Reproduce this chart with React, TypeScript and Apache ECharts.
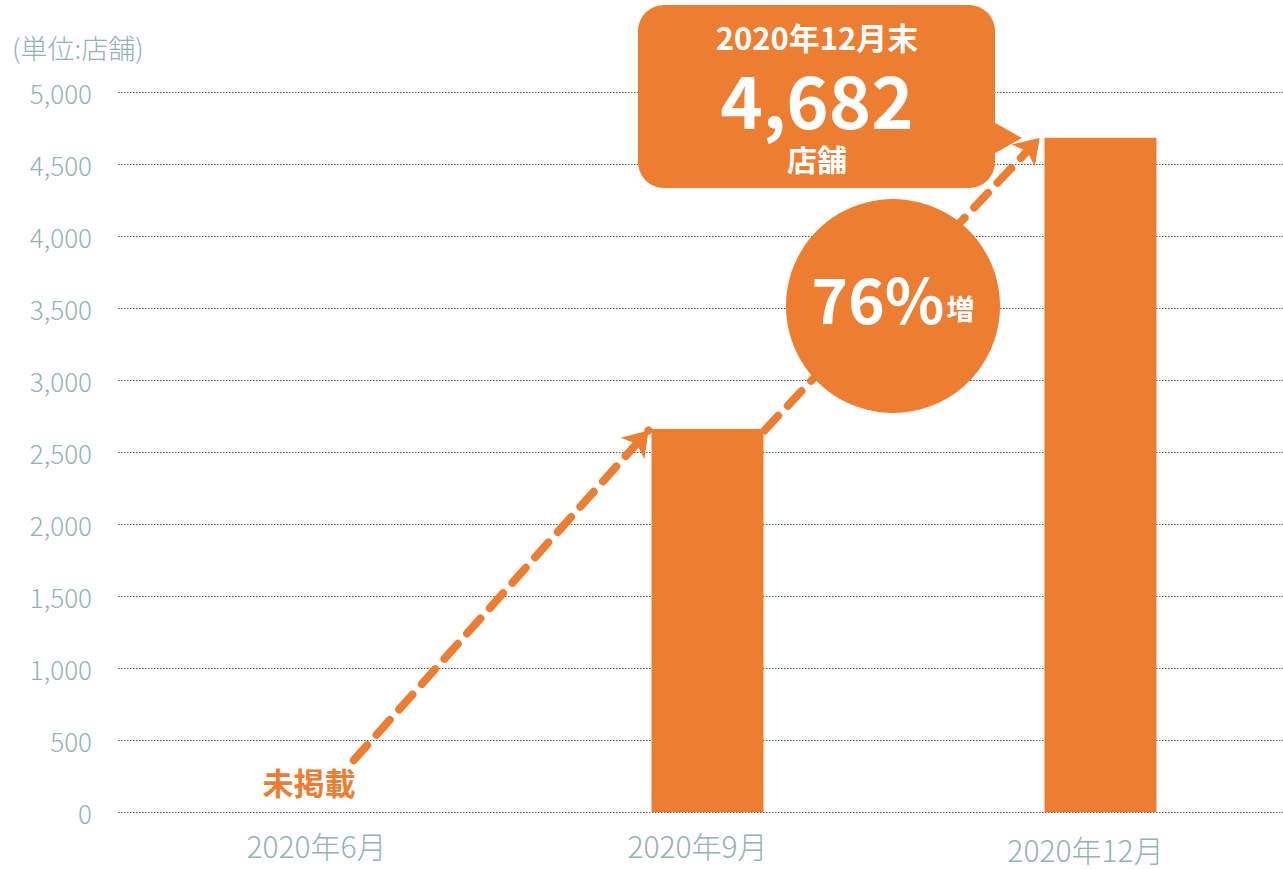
import React, { useEffect, useRef } from "react";
import * as echarts from "echarts";

const categories = ["2020年6月", "2020年9月", "2020年12月"];
const storeCounts: (number | null)[] = [null, 2660, 4682];
const yMax = 5000;
const yStep = 500;
// dashed growth arrows, in data units: [categoryPosition, stores]
const arrowFirst = [[0.1, 360], [0.85, 2650]];
const arrowSecond = [[1.145, 2650], [1.845, 4680]];

const ORANGE = "#ED7D31";
const AXIS_GRAY = "#93b3b3";
const FONT = "'Noto Sans CJK JP', 'Noto Sans', sans-serif";

export default function App() {
  const ref = useRef<HTMLDivElement>(null);
  useEffect(() => {
    document.documentElement.style.overflow = "hidden";
    document.body.style.margin = "0";
    document.body.style.overflow = "hidden";
    const chart = echarts.init(ref.current!, null, { renderer: "svg" });
    const labelStyle = { color: AXIS_GRAY, fontSize: 30, fontWeight: 300, fontFamily: FONT };
    chart.setOption({
      animation: false,
      textStyle: { fontFamily: FONT },
      grid: { left: 118, right: 0, top: 92, bottom: 57, containLabel: false, outerBoundsMode: "none" },
      xAxis: [
        {
          type: "category",
          data: categories,
          axisLine: { show: false },
          axisTick: { show: false },
          axisLabel: {
            ...labelStyle,
            margin: 18,
            formatter: (v: string, i: number) => `{l${i}|${v}}`,
            rich: {
              l0: { ...labelStyle, padding: [0, 0, 0, 4] },
              l1: { ...labelStyle, padding: [0, 20, 0, 0] },
              l2: { ...labelStyle, padding: [4, 30, 0, 0] },
            },
          },
        },
        { type: "value", min: -0.5, max: 2.5, show: false },
      ],
      yAxis: {
        type: "value",
        min: 0,
        max: yMax,
        interval: yStep,
        axisLine: { show: false },
        axisTick: { show: false },
        axisLabel: {
          color: AXIS_GRAY,
          fontSize: 26,
          fontWeight: 300,
          margin: 26,
          fontFamily: FONT,
          formatter: (v: number) => v.toLocaleString("en-US"),
        },
        splitLine: { lineStyle: { color: "#555", type: [1.5, 1.5], width: 1 } },
      },
      series: [
        {
          type: "bar",
          data: storeCounts,
          barWidth: 112,
          itemStyle: { color: ORANGE },
          z: 2,
        },
        {
          type: "lines",
          coordinateSystem: "cartesian2d",
          xAxisIndex: 1,
          yAxisIndex: 0,
          symbol: ["none", "arrow"],
          symbolSize: 24,
          lineStyle: { color: ORANGE, width: 8, type: [20, 14], cap: "round", opacity: 1 },
          data: [{ coords: arrowFirst }, { coords: arrowSecond }],
          z: 3,
        },
      ],
      graphic: [
        {
          type: "text",
          x: 12,
          y: 47,
          style: { text: "(単位:店舗)", fill: AXIS_GRAY, font: `300 27px ${FONT}`, textVerticalAlign: "middle" },
        },
        {
          type: "text",
          x: 309,
          y: 781,
          z: 100,
          style: {
            text: "未掲載",
            fill: ORANGE,
            font: `bold 31px ${FONT}`,
            textAlign: "center",
            textVerticalAlign: "middle",
          },
        },
        {
          type: "circle",
          z: 100,
          shape: { cx: 893, cy: 306, r: 107 },
          style: { fill: ORANGE },
        },
        {
          type: "text",
          x: 893,
          y: 297,
          z: 101,
          style: {
            text: "{a|76%}{b|増}",
            textAlign: "center",
            textVerticalAlign: "middle",
            rich: {
              a: { fontSize: 62, fontWeight: "bold", fill: "#fff", color: "#fff", fontFamily: FONT, verticalAlign: "bottom" },
              b: { fontSize: 28, fontWeight: "bold", fill: "#fff", color: "#fff", fontFamily: FONT, verticalAlign: "bottom", padding: [0, 0, 6, 2] },
            },
          },
        },
        {
          type: "polygon",
          z: 100,
          shape: { points: [[990, 120], [1022, 138], [990, 156]] },
          style: { fill: ORANGE },
        },
        {
          type: "rect",
          z: 100,
          shape: { x: 638, y: 5, width: 357, height: 183, r: 26 },
          style: { fill: ORANGE },
        },
        {
          type: "text",
          x: 817,
          y: 36,
          z: 101,
          style: { text: "2020年12月末", fill: "#fff", font: `bold 31px ${FONT}`, lineHeight: 34, textAlign: "center", textVerticalAlign: "middle" },
        },
        {
          type: "text",
          x: 817,
          y: 97,
          z: 101,
          style: { text: "4,682", fill: "#fff", font: `bold 72px ${FONT}`, lineHeight: 62, textAlign: "center", textVerticalAlign: "middle" },
        },
        {
          type: "text",
          x: 817,
          y: 158,
          z: 101,
          style: { text: "店舗", fill: "#fff", font: `bold 30px ${FONT}`, lineHeight: 32, textAlign: "center", textVerticalAlign: "middle" },
        },
      ],
    });
    return () => chart.dispose();
  }, []);
  return <div ref={ref} style={{ width: 1297, height: 869 }} />;
}
